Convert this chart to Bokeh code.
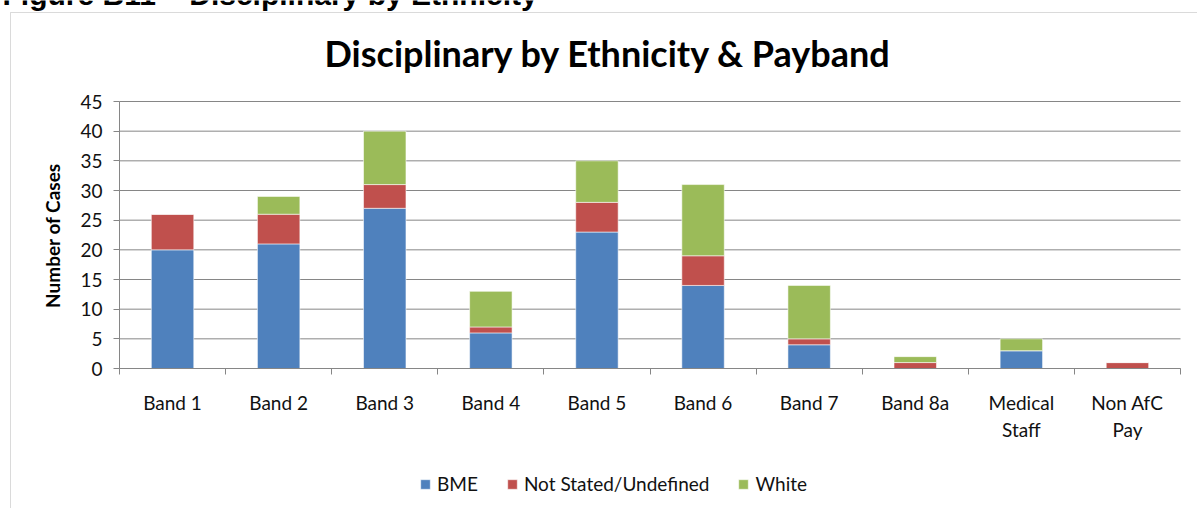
import math
from bokeh.plotting import figure
from bokeh.models import (Range1d, FixedTicker, LinearAxis, Label, BoxAnnotation,
                          Legend, LegendItem, ColumnDataSource)
from bokeh.embed import file_html
from bokeh.resources import INLINE

# ---------------- data ----------------
categories = ["Band 1", "Band 2", "Band 3", "Band 4", "Band 5", "Band 6", "Band 7",
              "Band 8a", "Medical Staff", "Non AfC Pay"]
category_labels = ["Band 1", "Band 2", "Band 3", "Band 4", "Band 5", "Band 6", "Band 7",
                   "Band 8a", "Medical\nStaff", "Non AfC\nPay"]
bme = [20, 21, 27, 6, 23, 14, 4, 0, 3, 0]
not_stated = [6, 5, 4, 1, 5, 5, 1, 1, 0, 1]
white = [0, 3, 9, 6, 7, 12, 9, 1, 2, 0]
series_names = ["BME", "Not Stated/Undefined", "White"]
series_colors = ["#4F81BD", "#C0504D", "#9BBB59"]
y_ticks = [0, 5, 10, 15, 20, 25, 30, 35, 40, 45]
title_text = "Disciplinary by Ethnicity & Payband"
header_text = "Figure B11 \u2013 Disciplinary by Ethnicity"
y_label_text = "Number of Cases"

# ---------------- layout (pixels) ----------------
W, H = 1197, 508
PL, PR, PT, PB = 119, 1180, 101, 368     # plot-area edges on the page
GRAY = "#868686"
FONT = "Lato"
n = len(categories)
ymax = max(y_ticks)
kx = (PR - PL) / n
ky = (PB - PT) / ymax
centers = [i + 0.5 for i in range(n)]
edges = list(range(n + 1))

p = figure(width=W, height=H,
           x_range=Range1d(-PL / kx, n + (W - PR) / kx),
           y_range=Range1d(-(H - PB) / ky, ymax + PT / ky),
           output_backend="svg", toolbar_location=None,
           x_axis_location=None, y_axis_location=None,
           min_border=0)
p.outline_line_color = None
p.background_fill_color = "white"
p.border_fill_color = "white"
p.xgrid.visible = False
p.ygrid.visible = False

# chart border (left and top edges visible)
p.add_layout(BoxAnnotation(left=10, right=W + 100, top=H - 12, bottom=-100,
                           left_units="screen", right_units="screen",
                           top_units="screen", bottom_units="screen",
                           fill_alpha=0, line_color=GRAY, line_width=1))

# horizontal gridlines
p.segment(x0=[0] * len(y_ticks), x1=[n] * len(y_ticks), y0=y_ticks, y1=y_ticks,
          line_color=GRAY, line_width=1)

src = ColumnDataSource(dict(x=centers, cat=categories, bme=bme, ns=not_stated, white=white))
renderers = p.vbar_stack(["bme", "ns", "white"], x="x", width=0.4, source=src,
                         fill_color=series_colors, line_color="white", line_alpha=0.55,
                         line_width=1)

# y axis
ya = LinearAxis(fixed_location=0, bounds=(0, ymax), ticker=FixedTicker(ticks=y_ticks),
                axis_line_color=GRAY, major_tick_line_color=GRAY,
                major_tick_out=6, major_tick_in=0, minor_tick_line_color=None,
                major_label_text_font=FONT, major_label_text_font_size="19px",
                major_label_text_color="#111111", major_label_standoff=11)
p.add_layout(ya, "left")

# x axis: line + tick marks at category boundaries
tick_axis = LinearAxis(fixed_location=0, bounds=(0, n), ticker=FixedTicker(ticks=edges),
                       major_label_overrides={t: "" for t in edges},
                       axis_line_color=GRAY, major_tick_line_color=GRAY,
                       major_tick_out=6, major_tick_in=0, minor_tick_line_color=None,
                       major_label_standoff=0, major_label_text_font_size="1px")
p.add_layout(tick_axis, "below")

# x axis: category labels at centres
cat_axis = LinearAxis(fixed_location=0, bounds=(0, n), ticker=FixedTicker(ticks=centers),
                      major_label_overrides={c: l for c, l in zip(centers, category_labels)},
                      axis_line_color=None, major_tick_line_color=None,
                      minor_tick_line_color=None, major_tick_out=0, major_tick_in=0,
                      major_label_standoff=22,
                      major_label_text_font=FONT, major_label_text_font_size="19px",
                      major_label_text_color="#111111",
                      major_label_text_line_height=1.18)
p.add_layout(cat_axis, "below")

# texts
p.add_layout(Label(x=608, y=H - 52, x_units="screen", y_units="screen",
                   text=title_text, text_font=FONT, text_font_style="bold",
                   text_font_size="36px", text_align="center", text_baseline="middle",
                   text_color="black"))
p.add_layout(Label(x=52, y=H - 235, x_units="screen", y_units="screen",
                   text=y_label_text, text_font=FONT, text_font_style="bold",
                   text_font_size="19px", text_align="center", text_baseline="middle",
                   angle=math.pi / 2, text_color="black"))
p.add_layout(Label(x=2, y=H + 6, x_units="screen", y_units="screen",
                   text=header_text, text_font="Liberation Sans", text_font_style="bold",
                   text_font_size="30px", text_align="left", text_baseline="alphabetic",
                   text_color="black"))

legend = Legend(items=[LegendItem(label=nm, renderers=[r]) for nm, r in zip(series_names, renderers)],
                orientation="horizontal", location=(419, H - 495),
                glyph_width=12, glyph_height=12, label_standoff=6, spacing=28,
                padding=0, margin=0, border_line_color=None, background_fill_alpha=0,
                label_text_font=FONT, label_text_font_size="19px", label_text_color="#111111")
p.add_layout(legend)

open("out.html", "w").write(file_html(p, INLINE))
